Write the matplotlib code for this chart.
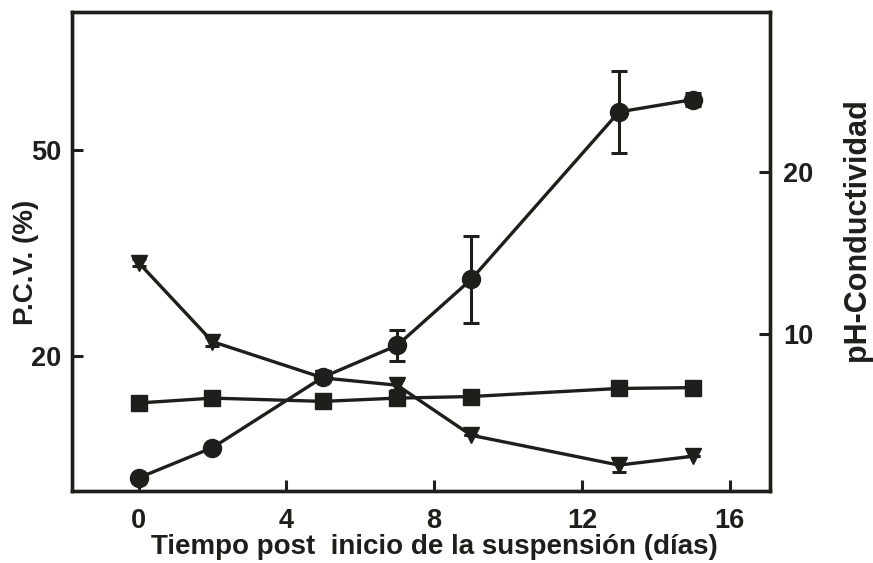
import numpy as np
import matplotlib.pyplot as plt

plt.rcParams['font.family'] = ['Liberation Sans', 'DejaVu Sans']
plt.rcParams['font.weight'] = 'bold'

dias = [0, 2, 5, 7, 9, 13, 15]
# P.C.V. (%) -> eje izquierdo
pcv = [2.2, 6.6, 16.9, 21.5, 31.1, 55.5, 57.3]
pcv_err = [0, 0, 0, 2.3, 6.3, 6.0, 0.9]
# eje derecho
ph = [5.7, 6.0, 5.8, 6.0, 6.1, 6.6, 6.65]
ph_err = [0, 0, 0, 0.3, 0, 0, 0]
cond = [14.4, 9.5, 7.25, 6.8, 3.7, 1.85, 2.4]
cond_err = [0.2, 0.3, 0, 0.3, 0, 0.4, 0]

col = '#1e1e1a'

fig = plt.figure(figsize=(8.73, 5.63), dpi=100)
ax = fig.add_axes([0.0825, 0.128, 0.8, 0.85])
ax2 = ax.twinx()

ax.errorbar(dias, pcv, yerr=pcv_err, color=col, marker='o', ms=13, lw=2.4,
            capsize=6, capthick=2.2, elinewidth=2.2)
ax2.errorbar(dias, ph, yerr=ph_err, color=col, marker='s', ms=12, lw=2.4,
             capsize=5, capthick=2.2, elinewidth=2.2)
ax2.errorbar(dias, cond, yerr=cond_err, color=col, marker='v', ms=12, lw=2.4,
             capsize=5, capthick=2.2, elinewidth=2.2)

ax.set_xlim(-1.8, 17.1)
ax.set_ylim(0.3, 70)
ax2.set_ylim(0.25, 29.9)
ax.set_xticks([0, 4, 8, 12, 16])
ax.set_yticks([20, 50])
ax2.set_yticks([10, 20])

for a in (ax, ax2):
    for s in a.spines.values():
        s.set_linewidth(2.4)
        s.set_color(col)
ax.tick_params(axis='both', direction='in', length=8, width=2.2, labelsize=19.5,
               colors=col, top=False)
ax.tick_params(axis='x', pad=12)
ax.tick_params(axis='y', pad=8)
ax2.tick_params(axis='y', direction='in', length=8, width=2.2, labelsize=19.5,
                colors=col, pad=9)

fig.text(434 / 873, 1 - 547 / 563, 'Tiempo post  inicio de la suspensión (días)',
         ha='center', va='center', fontsize=20, fontweight='bold', color=col)
fig.text(26 / 873, 1 - 262 / 563, 'P.C.V. (%)', rotation=90, ha='center',
         va='center', fontsize=20, fontweight='bold', color=col)
fig.text(857 / 873, 1 - 230 / 563, 'pH-Conductividad', rotation=90, ha='center',
         va='center', fontsize=22, fontweight='bold', color=col)

fig.savefig('out.png', dpi=100)
